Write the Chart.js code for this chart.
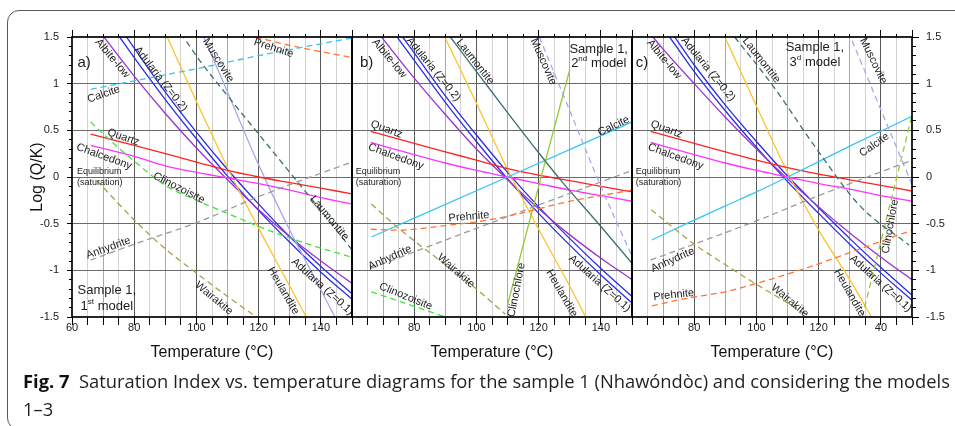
<!DOCTYPE html>
<html><head><meta charset="utf-8">
<script src="https://cdn.jsdelivr.net/npm/chart.js@4.4.0/dist/chart.umd.min.js"></script>
<style>
html,body{margin:0;padding:0;background:#fff;}
body{width:955px;height:426px;overflow:hidden;position:relative;font-family:"Liberation Sans",Arial,sans-serif;}
canvas{position:absolute;top:0;}
#box{position:absolute;left:7px;top:10px;width:1000px;height:418px;border:1.4px solid #5a5a5a;border-radius:12px;}
.cap{position:absolute;left:23px;font-family:"Open Sans",sans-serif;font-size:17.5px;line-height:20px;color:#231f20;white-space:nowrap;transform-origin:0 0;}
.cap b{color:#111;}
</style></head><body>
<div id="box"></div>
<canvas id="ca" width="372" height="426" style="left:0px"></canvas>
<canvas id="cb" width="312" height="426" style="left:340px"></canvas>
<canvas id="cc" width="335" height="426" style="left:620px"></canvas>
<div class="cap" id="cap1" style="top:371px"><b>Fig. 7</b>&nbsp; Saturation Index vs. temperature diagrams for the sample 1 (Nhawóndòc) and considering the models</div>
<div class="cap" id="cap2" style="top:399px">1–3</div>
<script>
// ---------- tick labels ----------
const xTickValsA = [60, 80, 100, 120, 140];
const xTickTextA = ['60', '80', '100', '120', '140'];
const xTickValsB = [80, 100, 120, 140];
const xTickTextB = ['80', '100', '120', '140'];
const xTickValsC = [80, 100, 120, 140];
const xTickTextC = ['80', '100', '120', '40'];
const yTickVals = [-1.5, -1, -0.5, 0, 0.5, 1, 1.5];
const yTickText = ['-1.5', '-1', '-0.5', '0', '0.5', '1', '1.5'];

// ---------- panel a (Sample 1, 1st model): [T °C, log(Q/K)] ----------
const calciteA = [[66,0.94],[80,1.03],[100,1.16],[120,1.30],[150,1.49]];
const prehniteA = [[119,1.5],[130,1.41],[150,1.28]];
const albiteA = [[69.8,1.52],[80,1.08],[90,0.68],[100,0.31],[110,-0.03],[120,-0.35],[130,-0.64],[140,-0.90],[150,-1.14]];
const adularia1A = [[75.3,1.5],[80,1.28],[90,0.83],[100,0.41],[110,0.01],[120,-0.36],[130,-0.70],[140,-1.02],[150,-1.31]];
const adularia2A = [[77.5,1.5],[80,1.38],[90,0.91],[100,0.48],[110,0.08],[120,-0.29],[130,-0.64],[140,-0.96],[150,-1.25]];
const heulanditeA = [[90.6,1.5],[100,0.81],[110,0.10],[120,-0.55],[130,-1.17],[135.3,-1.5]];
const muscoviteA = [[102.3,1.5],[110,0.91],[120,0.13],[130,-0.57],[140,-1.21],[144.5,-1.5]];
const laumontiteA = [[95,1.54],[101,1.25],[110,0.87],[120,0.46],[130,0.05],[140,-0.36],[150,-0.78]];
const quartzA = [[66,0.46],[80,0.34],[90,0.25],[100,0.16],[110,0.07],[120,0.0],[130,-0.06],[140,-0.12],[150,-0.18]];
const chalcedonyA = [[66,0.34],[80,0.22],[90,0.12],[100,0.05],[110,-0.01],[120,-0.07],[130,-0.14],[140,-0.22],[150,-0.29]];
const clinozoisiteA = [[66,0.59],[72,0.40],[80,0.17],[90,-0.09],[100,-0.25],[110,-0.39],[120,-0.53],[135,-0.71],[150,-0.86]];
const anhydriteA = [[66,-0.89],[80,-0.72],[100,-0.49],[120,-0.21],[135,-0.02],[150,0.16]];
const wairakiteA = [[68,-0.04],[70,-0.11],[80,-0.46],[90,-0.77],[100,-1.03],[110,-1.28],[119.3,-1.5]];

// ---------- panel b (Sample 1, 2nd model) ----------
const albiteB = [[69,1.52],[80,1.06],[90,0.67],[100,0.30],[110,-0.03],[120,-0.34],[130,-0.62],[140,-0.87],[150,-1.10]];
const adularia1B = [[74.5,1.5],[80,1.25],[90,0.80],[100,0.38],[110,-0.02],[120,-0.39],[130,-0.73],[140,-1.05],[150,-1.35]];
const adularia2B = [[76.3,1.5],[80,1.33],[90,0.87],[100,0.45],[110,0.05],[120,-0.32],[130,-0.66],[140,-0.98],[150,-1.28]];
const laumontiteB = [[90,1.57],[100,1.13],[110,0.69],[120,0.26],[127,-0.03],[140,-0.53],[150,-0.925]];
const heulanditeB = [[90.1,1.48],[100,0.79],[110,0.08],[120,-0.56],[130,-1.17],[135.1,-1.5]];
const muscoviteB = [[119,1.6],[130,0.71],[140,-0.1],[150,-0.85]];
const clinochloreB = [[110,-1.37],[120,-0.10],[130,1.15]];
const calciteB = [[66.4,-0.64],[110,0.0],[150,0.59]];
const quartzB = [[66,0.49],[80,0.36],[90,0.27],[100,0.18],[110,0.09],[120,0.02],[130,-0.04],[140,-0.10],[150,-0.16]];
const chalcedonyB = [[66,0.37],[80,0.24],[90,0.15],[100,0.07],[110,0.0],[120,-0.07],[130,-0.14],[140,-0.20],[150,-0.26]];
const prehniteB = [[66,-0.56],[75,-0.57],[90,-0.52],[100,-0.48],[110,-0.42],[120,-0.34],[130,-0.26],[140,-0.20],[150,-0.14]];
const anhydriteB = [[66,-0.98],[100,-0.55],[120,-0.30],[150,0.07]];
const wairakiteB = [[66.2,-0.29],[75,-0.55],[90,-0.94],[100,-1.2],[109.3,-1.47]];
const clinozoisiteB = [[66.2,-1.23],[90.1,-1.5]];

// ---------- panel c (Sample 1, 3d model) ----------
const albiteC = [[66,1.53],[70,1.37],[80,1.0],[90,0.64],[100,0.30],[110,-0.02],[120,-0.32],[130,-0.60],[140,-0.86],[150,-1.10]];
const adularia1C = [[72.1,1.5],[80,1.13],[90,0.71],[100,0.32],[110,-0.05],[120,-0.39],[130,-0.72],[140,-1.03],[150,-1.32]];
const adularia2C = [[73.7,1.5],[80,1.2],[90,0.77],[100,0.38],[110,0.01],[120,-0.33],[130,-0.66],[140,-0.97],[150,-1.265]];
const heulanditeC = [[90.1,1.48],[100,0.76],[110.7,0.0],[120,-0.57],[130,-1.1],[137,-1.5]];
const laumontiteC = [[93,1.5],[105,0.99],[120,0.27],[133,-0.3],[149,-0.73]];
const muscoviteC = [[129.5,1.56],[140,0.72],[150,-0.08]];
const clinochloreC = [[134,-1.5],[142,-0.42],[150,0.66]];
const calciteC = [[66.4,-0.675],[77.5,-0.5],[90,-0.31],[100,-0.16],[110,0.0],[130,0.33],[150,0.65]];
const quartzC = [[66,0.49],[80,0.36],[90,0.27],[100,0.18],[110,0.10],[120,0.03],[130,-0.03],[140,-0.09],[150,-0.15]];
const chalcedonyC = [[66,0.37],[80,0.24],[90,0.15],[100,0.07],[110,0.0],[120,-0.07],[130,-0.13],[140,-0.20],[150,-0.26]];
const anhydriteC = [[66,-0.89],[100,-0.47],[120,-0.20],[150,0.18]];
const wairakiteC = [[66.2,-0.35],[79.6,-0.71],[90,-0.94],[100,-1.15],[110,-1.35],[116.6,-1.49]];
const prehniteC = [[66.4,-1.38],[77.5,-1.30],[90,-1.23],[100,-1.14],[110,-1.04],[120,-0.93],[130,-0.81],[140,-0.69],[150,-0.57]];

// ---------- styles ----------
const COL = {
  calcite:'#33c8f2', prehnite:'#ff7430', albite:'#9933cc', adularia:'#2b2bef',
  heulandite:'#ffc22a', muscovite:'#a8a8f2', laumontite:'#3f6f6f', quartz:'#ff2222',
  chalcedony:'#ff33ff', clinozoisite:'#3be83b', anhydrite:'#9a9a9a', wairakite:'#a9a048',
  clinochlore:'#98c83a'
};
const DASH = [6, 4];

function series(data, key, dashed) {
  return {
    data: data.map(p => ({x: p[0], y: p[1]})),
    borderColor: COL[key], borderWidth: 1.3, borderDash: dashed ? DASH : [],
    pointRadius: 0, fill: false, cubicInterpolationMode: 'monotone',
    xAxisID: 'x', yAxisID: 'y'
  };
}

const seriesA = [
  series(calciteA,'calcite',true), series(prehniteA,'prehnite',true),
  series(clinozoisiteA,'clinozoisite',true), series(anhydriteA,'anhydrite',true),
  series(wairakiteA,'wairakite',true), series(laumontiteA,'laumontite',true),
  series(quartzA,'quartz',false), series(chalcedonyA,'chalcedony',false),
  series(muscoviteA,'muscovite',false), series(heulanditeA,'heulandite',false),
  series(albiteA,'albite',false), series(adularia1A,'adularia',false), series(adularia2A,'adularia',false)
];
const seriesB = [
  series(prehniteB,'prehnite',true), series(anhydriteB,'anhydrite',true),
  series(wairakiteB,'wairakite',true), series(clinozoisiteB,'clinozoisite',true),
  series(muscoviteB,'muscovite',true), series(laumontiteB,'laumontite',false),
  series(clinochloreB,'clinochlore',false), series(calciteB,'calcite',false),
  series(quartzB,'quartz',false), series(chalcedonyB,'chalcedony',false),
  series(heulanditeB,'heulandite',false), series(albiteB,'albite',false),
  series(adularia1B,'adularia',false), series(adularia2B,'adularia',false)
];
const seriesC = [
  series(prehniteC,'prehnite',true), series(anhydriteC,'anhydrite',true),
  series(wairakiteC,'wairakite',true), series(laumontiteC,'laumontite',true),
  series(muscoviteC,'muscovite',true), series(clinochloreC,'clinochlore',true),
  series(calciteC,'calcite',false), series(quartzC,'quartz',false),
  series(chalcedonyC,'chalcedony',false), series(heulanditeC,'heulandite',false),
  series(albiteC,'albite',false), series(adularia1C,'adularia',false), series(adularia2C,'adularia',false)
];

// ---------- in-plot labels (placement) ----------
const labelsA = [
  {t:63.9,l:1.22,text:'a)',size:15,align:'center'},
  {t:73,l:1.27,text:'Albite-low',rot:50},
  {t:88.5,l:1.05,text:'Adularia (Z=0.2)',rot:52},
  {t:107,l:1.25,text:'Muscovite',rot:58},
  {t:124.8,l:1.38,text:'Prehnite',rot:18},
  {t:70.2,l:0.886,text:'Calcite',rot:-19},
  {t:76.5,l:0.425,text:'Quartz',rot:19},
  {t:70.3,l:0.218,text:'Chalcedony',rot:20},
  {t:61.6,l:0.064,text:'Equilibrium',size:9,align:'left'},
  {t:61.6,l:-0.064,text:'(saturation)',size:9,align:'left'},
  {t:94.4,l:-0.118,text:'Clinozoisite',rot:27},
  {t:142.7,l:-0.44,text:'Laumontite',rot:50},
  {t:71.7,l:-0.76,text:'Anhydrite',rot:-20},
  {t:105.6,l:-1.3,text:'Wairakite',rot:40},
  {t:127.9,l:-1.218,text:'Heulandite',rot:60},
  {t:140.5,l:-1.175,text:'Adularia (Z=0.1)',rot:42},
  {t:71.2,l:-1.22,text:'Sample 1,',size:13},
  {t:71.2,l:-1.385,parts:['1','st',' model'],size:13}
];
const labelsB = [
  {t:64.7,l:1.22,text:'b)',size:15},
  {t:72,l:1.27,text:'Albite-low',rot:50},
  {t:86.2,l:1.154,text:'Adularia (Z=0.2)',rot:51},
  {t:99.6,l:1.235,text:'Laumontite',rot:52},
  {t:121.5,l:1.235,text:'Muscovite',rot:66},
  {t:139.3,l:1.37,text:'Sample 1,',size:13},
  {t:139.3,l:1.215,parts:['2','nd',' model'],size:13},
  {t:144.1,l:0.546,text:'Calcite',rot:-25},
  {t:71.1,l:0.51,text:'Quartz',rot:20},
  {t:74.1,l:0.218,text:'Chalcedony',rot:20},
  {t:61.2,l:0.064,text:'Equilibrium',size:9,align:'left'},
  {t:61.2,l:-0.064,text:'(saturation)',size:9,align:'left'},
  {t:97.6,l:-0.425,text:'Prehnite',rot:-5},
  {t:72.2,l:-0.865,text:'Anhydrite',rot:-24},
  {t:93.4,l:-1.007,text:'Wairakite',rot:41},
  {t:77.3,l:-1.28,text:'Clinozoisite',rot:22},
  {t:112.9,l:-1.21,text:'Clinochlore',rot:-79},
  {t:127.4,l:-1.246,text:'Heulandite',rot:60},
  {t:139.6,l:-1.14,text:'Adularia (Z=0.1)',rot:42}
];
const labelsC = [
  {t:63.2,l:1.22,text:'c)',size:15},
  {t:70.3,l:1.26,text:'Albite-low',rot:50},
  {t:84.5,l:1.154,text:'Adularia (Z=0.2)',rot:51},
  {t:101.6,l:1.25,text:'Laumontite',rot:52},
  {t:118.8,l:1.39,text:'Sample 1,',size:13},
  {t:118.8,l:1.225,parts:['3','d',' model'],size:13},
  {t:137.6,l:1.243,text:'Muscovite',rot:64},
  {t:71.1,l:0.51,text:'Quartz',rot:20},
  {t:74,l:0.218,text:'Chalcedony',rot:20},
  {t:137.9,l:0.343,text:'Calcite',rot:-35},
  {t:61.2,l:0.064,text:'Equilibrium',size:9,align:'left'},
  {t:61.2,l:-0.064,text:'(saturation)',size:9,align:'left'},
  {t:73.1,l:-0.89,text:'Anhydrite',rot:-24},
  {t:73.4,l:-1.264,text:'Prehnite',rot:-6},
  {t:110.7,l:-1.325,text:'Wairakite',rot:40},
  {t:129.9,l:-1.24,text:'Heulandite',rot:60},
  {t:139.9,l:-1.14,text:'Adularia (Z=0.1)',rot:42},
  {t:143.0,l:-0.53,text:'Clinochlore',rot:-80}
];

// ---------- chart construction ----------
const FONT = '"Liberation Sans", Arial, sans-serif';
Chart.defaults.font.family = FONT;
Chart.defaults.color = '#222';

function gridX(ctx) {
  if (!ctx.tick) return 'rgba(0,0,0,0)';
  const v = Math.round(ctx.tick.value);
  if (v <= 60 || v >= 150) return 'rgba(0,0,0,0)';
  if (v % 20 === 0) return '#5a5a5a';
  if (v % 10 === 0) return '#a8a8a8';
  return '#d2d2d2';
}
function gridY(ctx) {
  if (!ctx.tick) return 'rgba(0,0,0,0)';
  return Math.abs(ctx.tick.value) > 1.49 ? 'rgba(0,0,0,0)' : '#6a6a6a';
}
function yLabel(v) {
  const i = yTickVals.findIndex(t => Math.abs(t - v) < 1e-6);
  return i >= 0 ? yTickText[i] : '';
}

function makeLabelPlugin(items) {
  return {
    id: 'annot',
    afterDatasetsDraw(chart) {
      const ctx = chart.ctx, a = chart.chartArea;
      const xs = chart.scales.x, ys = chart.scales.y;
      ctx.save();
      ctx.strokeStyle = '#000'; ctx.lineWidth = 1.7;
      ctx.strokeRect(a.left, a.top, a.right - a.left, a.bottom - a.top);
      ctx.restore();
      for (const L of items) {
        const size = L.size || 11;
        const px = xs.getPixelForValue(L.t), py = ys.getPixelForValue(L.l);
        ctx.save();
        ctx.translate(px, py);
        ctx.rotate((L.rot || 0) * Math.PI / 180);
        ctx.fillStyle = '#1c1c1c';
        ctx.textBaseline = 'middle';
        if (L.parts) {
          const f1 = size + 'px ' + FONT, f2 = Math.round(size * 0.65) + 'px ' + FONT;
          ctx.font = f1; const w0 = ctx.measureText(L.parts[0]).width; const w2 = ctx.measureText(L.parts[2]).width;
          ctx.font = f2; const w1 = ctx.measureText(L.parts[1]).width;
          let x = -(w0 + w1 + w2) / 2;
          ctx.textAlign = 'left';
          ctx.font = f1; ctx.fillText(L.parts[0], x, 0); x += w0;
          ctx.font = f2; ctx.fillText(L.parts[1], x, -size * 0.35); x += w1;
          ctx.font = f1; ctx.fillText(L.parts[2], x, 0);
        } else {
          ctx.font = size + 'px ' + FONT;
          ctx.textAlign = L.align || 'center';
          ctx.fillText(L.text, 0, 0);
        }
        ctx.restore();
      }
    }
  };
}

function buildChart(id, datasets, labels, xVals, xText, side) {
  const scales = {
    x: {type:'linear', axis:'x', position:'bottom', min:60, max:150, weight:0,
      ticks:{stepSize:5, autoSkip:false, maxRotation:0, minRotation:0, padding:-4,
        font:{size:11}, color:'#222',
        callback:(v) => { const i = xVals.indexOf(Math.round(v)); return i >= 0 ? xText[i] : ''; }},
      grid:{color:gridX, tickColor:'#000', tickLength:8, lineWidth:1},
      border:{display:false},
      title:{display:true, text:'Temperature (°C)', font:{size:16}, color:'#111', padding:{top:0, bottom:5}},
      afterFit:(s) => { s.height = 50; }},
    xt1: {type:'linear', axis:'x', position:'top', min:60, max:150, weight:0,
      ticks:{stepSize:5, display:false, autoSkip:false},
      grid:{drawOnChartArea:false, tickColor:'#000', tickLength:3},
      border:{display:false}, afterFit:(s) => { s.height = 0; }},
    xt2: {type:'linear', axis:'x', position:'top', min:60, max:150, weight:1,
      ticks:{stepSize:20, display:false, autoSkip:false},
      grid:{drawOnChartArea:false, tickColor:'#000', tickLength:7},
      border:{display:false}, afterFit:(s) => { s.height = 7; }},
    y: {type:'linear', axis:'y', position:'left', min:-1.5, max:1.5, weight:1,
      ticks:{stepSize:0.5, autoSkip:false, display: side === 'left', padding:8, font:{size:11}, color:'#222', callback:yLabel},
      grid:{color:gridY, tickColor:'#000', tickLength: side === 'left' ? 5 : 0, drawTicks: side === 'left', lineWidth:1},
      border:{display:false},
      title:{display: side === 'left', text:'Log (Q/K)', font:{size:16}, color:'#111', padding:{top:28, bottom:0}},
      afterFit:(s) => { s.width = side === 'left' ? 72 : 12; }}
  };
  if (side === 'left') {
    scales.ym = {type:'linear', axis:'y', position:'left', min:-1.5, max:1.5, weight:0,
      ticks:{stepSize:0.1, display:false},
      grid:{drawOnChartArea:false, tickColor:'#000', tickLength:3},
      border:{display:false}, afterFit:(s) => { s.width = 0; }};
  }
  if (side === 'right') {
    scales.yr = {type:'linear', axis:'y', position:'right', min:-1.5, max:1.5, weight:1,
      ticks:{stepSize:0.5, autoSkip:false, padding:7, font:{size:11}, color:'#222', callback:yLabel},
      grid:{drawOnChartArea:false, tickColor:'#000', tickLength:7},
      border:{display:false}, afterFit:(s) => { s.width = 43; }};
    scales.yrm = {type:'linear', axis:'y', position:'right', min:-1.5, max:1.5, weight:0,
      ticks:{stepSize:0.1, display:false},
      grid:{drawOnChartArea:false, tickColor:'#000', tickLength:4},
      border:{display:false}, afterFit:(s) => { s.width = 0; }};
  }
  return new Chart(document.getElementById(id), {
    type: 'line',
    data: {datasets},
    options: {
      responsive:false, animation:false, devicePixelRatio:1,
      layout:{padding:{left:0, right: side === 'right' ? 0 : 20, top:30, bottom:59}},
      plugins:{legend:{display:false}, tooltip:{enabled:false}},
      scales
    },
    plugins:[makeLabelPlugin(labels)]
  });
}

buildChart('ca', seriesA, labelsA, xTickValsA, xTickTextA, 'left');
buildChart('cb', seriesB, labelsB, xTickValsB, xTickTextB, 'none');
buildChart('cc', seriesC, labelsC, xTickValsC, xTickTextC, 'right');

// caption: fit line 1 to its width in the reference
(function(){
  const c1 = document.getElementById('cap1'), c2 = document.getElementById('cap2');
  const w = c1.getBoundingClientRect().width;
  const k = 927 / w;
  c1.style.transform = 'scaleX(' + k + ')';
  c2.style.transform = 'scaleX(' + k + ')';
})();
</script>
</body></html>
